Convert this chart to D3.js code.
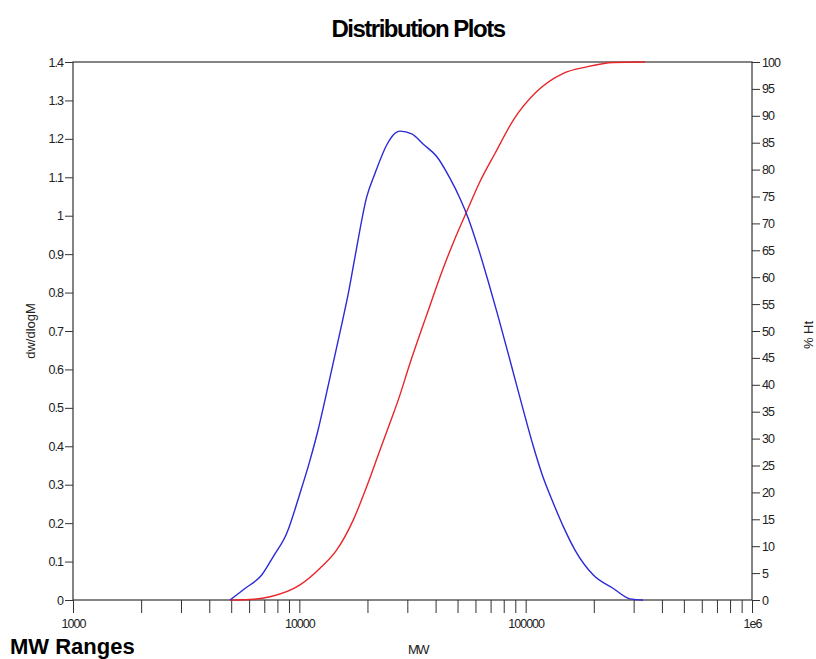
<!DOCTYPE html>
<html>
<head>
<meta charset="utf-8">
<script src="https://cdn.jsdelivr.net/npm/d3@7"></script>
<style>
  body { margin: 0; background: #fff; }
  svg text { font-family: "Liberation Sans", Arial, sans-serif; fill: #222; }
  .tick text { font-size: 12.5px; letter-spacing: -1px; }
</style>
</head>
<body>
<div id="chart"></div>
<script>
var w = 816;
var h = 659;
var margin = {top: 62, right: 64, bottom: 59, left: 73};

// dw/dlogM distribution (blue)
var blueMW = [4940, 5750, 6820, 7670, 8790, 10070, 11150, 12130, 12980, 15550, 16460, 17620,
              19850, 21590, 24320, 26000, 27860, 31370, 35300, 40460, 46320, 51280, 55800,
              61780, 68390, 75240, 86770, 97630, 108100, 117700, 132500, 146700, 165200,
              199000, 243900, 289000, 330000];
var blueVal = [0, 0.030, 0.065, 0.113, 0.173, 0.278, 0.364, 0.445, 0.520, 0.729, 0.798, 0.893,
               1.049, 1.110, 1.184, 1.210, 1.220, 1.213, 1.186, 1.154, 1.097, 1.045, 0.993,
               0.915, 0.828, 0.742, 0.607, 0.494, 0.400, 0.330, 0.252, 0.191, 0.130,
               0.065, 0.030, 0.003, 0];

// cumulative % Ht (red)
var redMW = [4940, 6050, 7420, 10070, 12340, 14630, 17320, 19850, 22720, 25590, 27370, 30830,
             36540, 43260, 48730, 54890, 62850, 73180, 88200, 111900, 146700, 186100,
             243900, 336800];
var redVal = [0, 0.1, 0.6, 2.8, 5.9, 9.3, 14.9, 21.1, 27.9, 33.8, 37.2, 44.0,
              53.0, 61.7, 67.2, 72.2, 77.8, 83.0, 89.2, 94.5, 97.9, 99.1,
              99.9, 100];

var xLabels = [1000, 10000, 100000, 1000000];
var xLabelText = ["1000", "10000", "100000", "1e6"];
var leftTicks = d3.range(0, 15).map(function(i) { return i / 10; });
var rightTicks = d3.range(0, 105, 5);

var iw = w - margin.left - margin.right;
var ih = h - margin.top - margin.bottom;

var xScale = d3.scaleLog().domain([1000, 1000000]).range([0, iw]);
var yLeft = d3.scaleLinear().domain([0, 1.4]).range([ih, 0]);
var yRight = d3.scaleLinear().domain([0, 100]).range([ih, 0]);

var svg = d3.select("#chart").append("svg")
    .attr("width", w)
    .attr("height", h);

var g = svg.append("g")
    .attr("transform", "translate(" + margin.left + "," + margin.top + ")");

// Axes
var xAxis = d3.axisBottom(xScale)
    .tickValues(d3.merge(d3.range(3, 6).map(function(e) {
        return d3.range(1, 10).map(function(k) { return k * Math.pow(10, e); });
    })).concat([1000000]))
    .tickSize(13)
    .tickPadding(6)
    .tickFormat(function(d) {
        var i = xLabels.indexOf(d);
        return i >= 0 ? xLabelText[i] : "";
    });

g.append("g")
    .attr("transform", "translate(0," + ih + ")")
    .call(xAxis);

g.append("g")
    .call(d3.axisLeft(yLeft).tickValues(leftTicks).tickSize(8).tickPadding(2)
        .tickFormat(function(d) { return d3.format("~g")(+d.toFixed(1)); }));

g.append("g")
    .attr("transform", "translate(" + iw + ",0)")
    .call(d3.axisRight(yRight).tickValues(rightTicks).tickSize(8).tickPadding(2));

g.selectAll(".domain").remove();
g.selectAll(".tick line").attr("stroke", "#333");

// Frame
g.append("rect")
    .attr("width", iw)
    .attr("height", ih)
    .attr("fill", "none")
    .attr("stroke", "#333")
    .attr("stroke-width", 1.2);

// Curves
var blueLine = d3.line()
    .curve(d3.curveMonotoneX)
    .x(function(d) { return xScale(d[0]); })
    .y(function(d) { return yLeft(d[1]); });

var redLine = d3.line()
    .curve(d3.curveMonotoneX)
    .x(function(d) { return xScale(d[0]); })
    .y(function(d) { return yRight(d[1]); });

g.append("path")
    .datum(d3.zip(redMW, redVal))
    .attr("d", redLine)
    .attr("fill", "none")
    .attr("stroke", "#e8262a")
    .attr("stroke-width", 1.4);

g.append("path")
    .datum(d3.zip(blueMW, blueVal))
    .attr("d", blueLine)
    .attr("fill", "none")
    .attr("stroke", "#2a2ad8")
    .attr("stroke-width", 1.4);

// Titles
svg.append("text")
    .attr("x", 418)
    .attr("y", 37)
    .attr("text-anchor", "middle")
    .style("font-size", "24px")
    .style("font-weight", "bold")
    .style("letter-spacing", "-1.5px")
    .style("fill", "#000")
    .text("Distribution Plots");

svg.append("text")
    .attr("x", 418)
    .attr("y", 654)
    .attr("text-anchor", "middle")
    .style("font-size", "13px")
    .style("letter-spacing", "-1.5px")
    .text("MW");

svg.append("text")
    .attr("transform", "translate(35,331) rotate(-90)")
    .attr("text-anchor", "middle")
    .style("font-size", "13px")
    .text("dw/dlogM");

svg.append("text")
    .attr("transform", "translate(813,335) rotate(-90)")
    .attr("text-anchor", "middle")
    .style("font-size", "13px")
    .text("% Ht");

svg.append("text")
    .attr("x", 10)
    .attr("y", 654)
    .style("font-size", "22px")
    .style("font-weight", "bold")
    .style("fill", "#000")
    .text("MW Ranges");
</script>
</body>
</html>
